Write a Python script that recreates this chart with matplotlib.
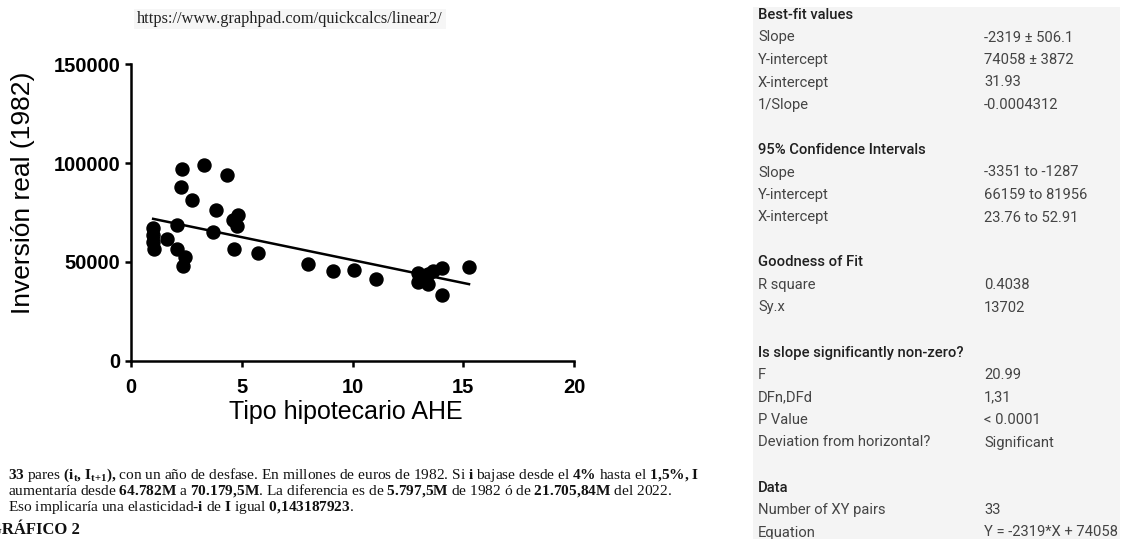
import numpy as np
import matplotlib
matplotlib.use("Agg")
from matplotlib import pyplot as plt
from matplotlib.patches import Rectangle

# Datos (tipo hipotecario AHE, inversion real 1982)
tipo = [1.0, 1.0, 1.0, 1.04, 1.64, 2.06, 2.06, 2.24, 2.32, 2.44, 2.36,
        2.74, 3.31, 3.72, 3.82, 4.32, 4.62, 4.77, 4.85, 4.66, 5.75,
        8.0, 9.13, 10.07, 11.06, 12.97, 12.97, 13.39, 13.4, 13.65, 14.03,
        14.05, 15.26]
inversion = [67000, 63600, 60200, 56500, 61400, 68700, 56400, 88100, 96900,
             52300, 48000, 81400, 99100, 65300, 76300, 94000, 71200, 68200,
             73800, 56400, 54400, 48800, 45400, 45900, 41200, 44200, 39700,
             38600, 44000, 45500, 46700, 33200, 47600]

pendiente = -2319
intercepto = 74058

x_ticks = [0, 5, 10, 15, 20]
y_ticks = [0, 50000, 100000, 150000]

# Tabla de resultados de GraphPad
tabla_etiquetas = ["Best-fit values", "Slope", "Y-intercept", "X-intercept", "1/Slope", "",
                   "95% Confidence Intervals", "Slope", "Y-intercept", "X-intercept", "",
                   "Goodness of Fit", "R square", "Sy.x", "",
                   "Is slope significantly non-zero?", "F", "DFn,DFd", "P Value",
                   "Deviation from horizontal?", "",
                   "Data", "Number of XY pairs", "Equation"]
tabla_valores = ["", "-2319 ± 506.1", "74058 ± 3872", "31.93", "-0.0004312", "",
                 "", "-3351 to -1287", "66159 to 81956", "23.76 to 52.91", "",
                 "", "0.4038", "13702", "",
                 "", "20.99", "1,31", "< 0.0001", "Significant", "",
                 "", "33", "Y = -2319*X + 74058"]
tabla_titulos = ["Best-fit values", "95% Confidence Intervals", "Goodness of Fit",
                 "Is slope significantly non-zero?", "Data"]

# Texto de abajo (negritas con mathtext)
lineas = [
    r"$\mathbf{33}$ pares $\mathbf{(i_t{,}\ I_{t{+}1}){,}}$ con un año de desfase. "
    r"En millones de euros de 1982. Si $\mathbf{i}$ bajase desde el $\mathbf{4\%}$ "
    r"hasta el $\mathbf{1{,}5\%{,}\ I}$",
    r"aumentaría desde $\mathbf{64.782M}$ a $\mathbf{70.179{,}5M}$. La diferencia es de "
    r"$\mathbf{5.797{,}5M}$ de 1982 ó de $\mathbf{21.705{,}84M}$ del 2022.",
    r"Eso implicaría una elasticidad-$\mathbf{i}$ de $\mathbf{I}$ igual "
    r"$\mathbf{0{,}143187923}$.",
]

plt.rcParams["mathtext.fontset"] = "custom"
plt.rcParams["mathtext.rm"] = "Liberation Serif"
plt.rcParams["mathtext.it"] = "Liberation Serif:italic"
plt.rcParams["mathtext.bf"] = "Liberation Serif:bold"

W, H = 1124, 539
fig = plt.figure(figsize=(W / 100, H / 100), dpi=100)
fig.patch.set_facecolor("white")

# capa de fondo en pixeles
bg = fig.add_axes([0, 0, 1, 1])
bg.set_xlim(0, W)
bg.set_ylim(H, 0)
bg.axis("off")
bg.patch.set_visible(False)

# grafico de dispersion
ax = fig.add_axes([131 / W, 1 - 360.5 / H, 443 / W, 296.2 / H])
ax.scatter(tipo, inversion, s=88, color="black", zorder=3, clip_on=False)
xs = np.array([min(tipo), max(tipo)])
ax.plot(xs, pendiente * xs + intercepto, color="black", lw=1.8)
ax.set_xlim(0, 20)
ax.set_ylim(0, 150000)
ax.set_xticks(x_ticks)
ax.set_yticks(y_ticks)
ax.set_xticklabels([str(v) for v in x_ticks])
ax.set_yticklabels([str(v) for v in y_ticks])
for s in ["top", "right"]:
    ax.spines[s].set_visible(False)
for s in ["left", "bottom"]:
    ax.spines[s].set_linewidth(1.8)
ax.tick_params(axis="both", direction="out", length=4.5, width=1.8, labelsize=14.5)
ax.tick_params(axis="x", pad=8)
ax.tick_params(axis="y", pad=3)
for lab in ax.get_xticklabels() + ax.get_yticklabels():
    lab.set_fontfamily("Liberation Sans")
    lab.set_fontweight("bold")

bg.text(23, 193, "Inversión real (1982)", rotation=90, ha="center", va="center",
        fontsize=19, family="Liberation Sans")
bg.text(346, 412, "Tipo hipotecario AHE", ha="center", va="center",
        fontsize=18, family="Liberation Sans")

# url de la fuente
bg.add_patch(Rectangle((134, 9), 312, 20, facecolor="#f6f6f6", edgecolor="none"))
bg.text(137, 19, "https://www.graphpad.com/quickcalcs/linear2/", ha="left", va="center",
        fontsize=11.8, family="Liberation Serif", color="#222222")

# panel de la tabla
bg.add_patch(Rectangle((753, 7), 367, H - 7, facecolor="#f4f4f4", edgecolor="none"))
for i, (et, va) in enumerate(zip(tabla_etiquetas, tabla_valores)):
    y = 15 + 22.5 * i
    titulo = et in tabla_titulos
    bg.text(758, y, et, ha="left", va="center", fontsize=10.6, family="Roboto",
            color="#202020" if titulo else "#444444",
            fontweight="medium" if titulo else "normal")
    bg.text(984, y, va, ha="left", va="center", fontsize=10.6, family="Roboto",
            color="#444444")

# parrafo inferior
for k, linea in enumerate(lineas):
    bg.text(8, 475 + 16 * k, linea, ha="left", va="center", fontsize=11.1,
            family="Liberation Serif", color="#111111")

bg.text(-11, 530, "GRÁFICO 2", ha="left", va="center", fontsize=12,
        family="Liberation Serif", fontweight="bold", color="#111111")

fig.savefig("out.png", dpi=100)
